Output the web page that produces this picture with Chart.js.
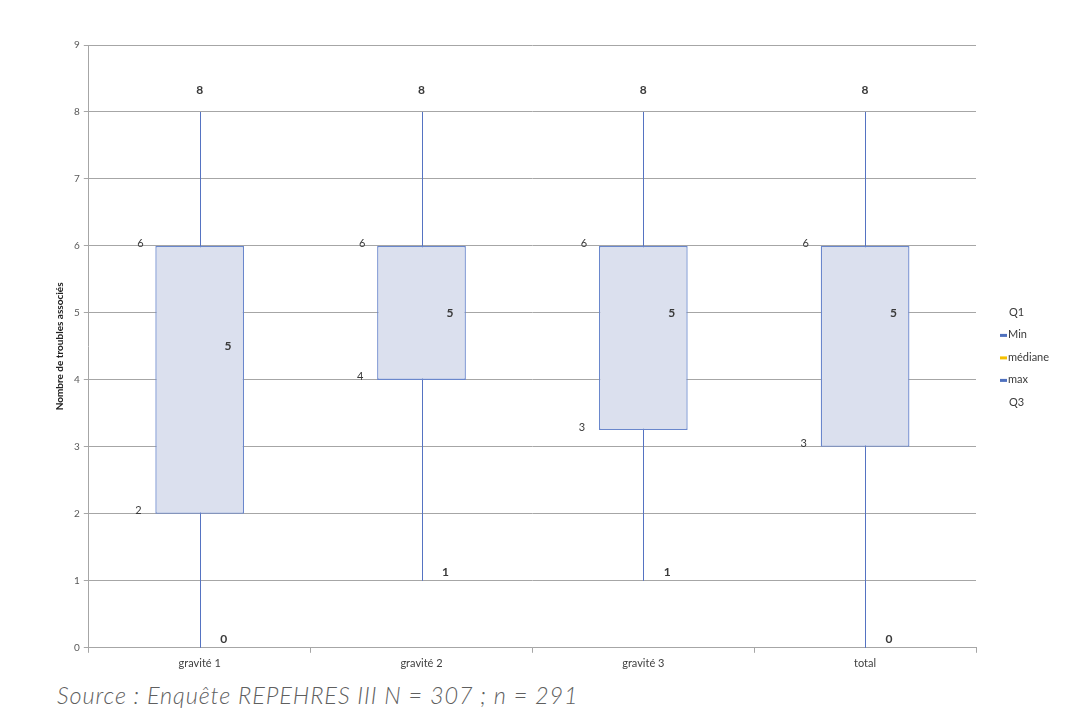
<!DOCTYPE html>
<html>
<head>
<meta charset="utf-8">
<script src="https://cdn.jsdelivr.net/npm/chart.js@4.4.1/dist/chart.umd.min.js"></script>
<style>
  html, body { margin: 0; padding: 0; background: #fff; }
  #wrap { position: relative; width: 1089px; height: 722px; }
  #chart { position: absolute; left: 0; top: 0; }
  #source {
    position: absolute; left: 57px; top: 681px;
    font-family: Lato, "Open Sans", sans-serif; font-style: italic; font-weight: 300;
    font-size: 23.5px; color: #5f5f5f; letter-spacing: 0.9px; white-space: nowrap;
  }
</style>
</head>
<body>
<div id="wrap">
  <canvas id="chart" width="1089" height="680"></canvas>
  <div id="source">Source : Enquête REPEHRES III N = 307 ; n = 291</div>
</div>
<script>
// valeurs
var categories = ["gravité 1", "gravité 2", "gravité 3", "total"];
var minValues = [0, 1, 1, 0];
var q1Values = [2, 4, 3.25, 3];
var medianValues = [4.5, 5, 5, 5];
var q3Values = [6, 6, 6, 6];
var maxValues = [8, 8, 8, 8];

var legendLabels = ["Q1", "Min", "médiane", "max", "Q3"];
var legendColors = [null, "#4f71be", "#f5c000", "#4f71be", null];

var boxFill = "#dbe0ee";
var boxLine = "#6a87cc";
var whiskerColor = "#5573c2";
var textColor = "#3a3a3a";
var fontFamily = "Lato, 'Open Sans', sans-serif";

function fmt(v) { return String(Math.round(v)); }

// moustaches : trait fin de min à max, derrière la boîte
var whiskerPlugin = {
  id: "whiskers",
  beforeDatasetsDraw: function (chart) {
    var ctx = chart.ctx;
    var x = chart.scales.x;
    var y = chart.scales.y;
    ctx.save();
    ctx.strokeStyle = whiskerColor;
    ctx.lineWidth = 1;
    categories.forEach(function (c, i) {
      var px = Math.round(x.getPixelForValue(i)) + 0.5;
      ctx.beginPath();
      ctx.moveTo(px, y.getPixelForValue(minValues[i]));
      ctx.lineTo(px, y.getPixelForValue(maxValues[i]));
      ctx.stroke();
    });
    ctx.restore();
  }
};

var boxLabelsPlugin = {
  id: "boxLabels",
  afterDatasetsDraw: function (chart) {
    var ctx = chart.ctx;
    var y = chart.scales.y;
    var meta = chart.getDatasetMeta(0);
    ctx.save();
    ctx.fillStyle = textColor;
    ctx.textBaseline = "middle";
    ctx.textAlign = "center";
    meta.data.forEach(function (bar, i) {
      var cx = bar.x;
      var half = bar.width / 2;
      var left = cx - half, right = cx + half;
      ctx.font = "bold 12px " + fontFamily;
      ctx.fillText(fmt(maxValues[i]), cx, y.getPixelForValue(maxValues[i]) - 22);
      ctx.fillText(fmt(medianValues[i]), right - 16, y.getPixelForValue(medianValues[i]));
      ctx.fillText(fmt(minValues[i]), cx + 24, y.getPixelForValue(minValues[i]) - 9);
      ctx.font = "11px " + fontFamily;
      ctx.fillText(fmt(q3Values[i]), left - 15, y.getPixelForValue(q3Values[i]) - 2);
      ctx.fillText(fmt(q1Values[i]), left - 17, y.getPixelForValue(q1Values[i]) - 3);
    });
    ctx.restore();
  }
};

var sideLegendPlugin = {
  id: "sideLegend",
  afterDraw: function (chart) {
    var ctx = chart.ctx;
    var area = chart.chartArea;
    var x = area.right + 32;
    var y0 = (area.top + area.bottom) / 2 - 34;
    ctx.save();
    ctx.font = "11px " + fontFamily;
    ctx.textBaseline = "middle";
    ctx.textAlign = "left";
    legendLabels.forEach(function (lab, i) {
      var yy = y0 + i * 22.5;
      if (legendColors[i]) {
        ctx.fillStyle = legendColors[i];
        ctx.fillRect(x - 8, yy - 1, 7, 3);
      }
      ctx.fillStyle = textColor;
      ctx.fillText(lab, legendColors[i] ? x : x + 1, yy);
    });
    ctx.restore();
  }
};

new Chart(document.getElementById("chart"), {
  type: "bar",
  data: {
    labels: categories,
    datasets: [
      {
        label: "boîte",
        data: q1Values.map(function (v, i) { return [v, q3Values[i]]; }),
        backgroundColor: boxFill,
        borderColor: boxLine,
        borderWidth: 1.3,
        borderSkipped: false,
        barPercentage: 0.4,
        categoryPercentage: 1
      }
    ]
  },
  options: {
    responsive: false,
    animation: false,
    layout: { padding: { left: 50, right: 113, top: 45, bottom: 6 } },
    plugins: {
      legend: { display: false },
      tooltip: { enabled: false }
    },
    scales: {
      x: {
        grid: { drawOnChartArea: false, drawTicks: true, tickLength: 5, color: "#a6a6a6", offset: true },
        border: { color: "#a6a6a6" },
        ticks: { color: "#404040", font: { family: fontFamily, size: 11 }, padding: 4 }
      },
      y: {
        min: 0,
        max: 9,
        grid: { color: "#a6a6a6", tickLength: 5 },
        border: { color: "#a6a6a6" },
        ticks: { stepSize: 1, color: "#595959", font: { family: fontFamily, size: 10 }, padding: 4 },
        title: {
          display: true,
          text: "Nombre de troubles associés",
          color: "#222",
          font: { family: fontFamily, size: 10, weight: "bold" },
          padding: { bottom: 4 }
        }
      }
    }
  },
  plugins: [whiskerPlugin, boxLabelsPlugin, sideLegendPlugin]
});
</script>
</body>
</html>
